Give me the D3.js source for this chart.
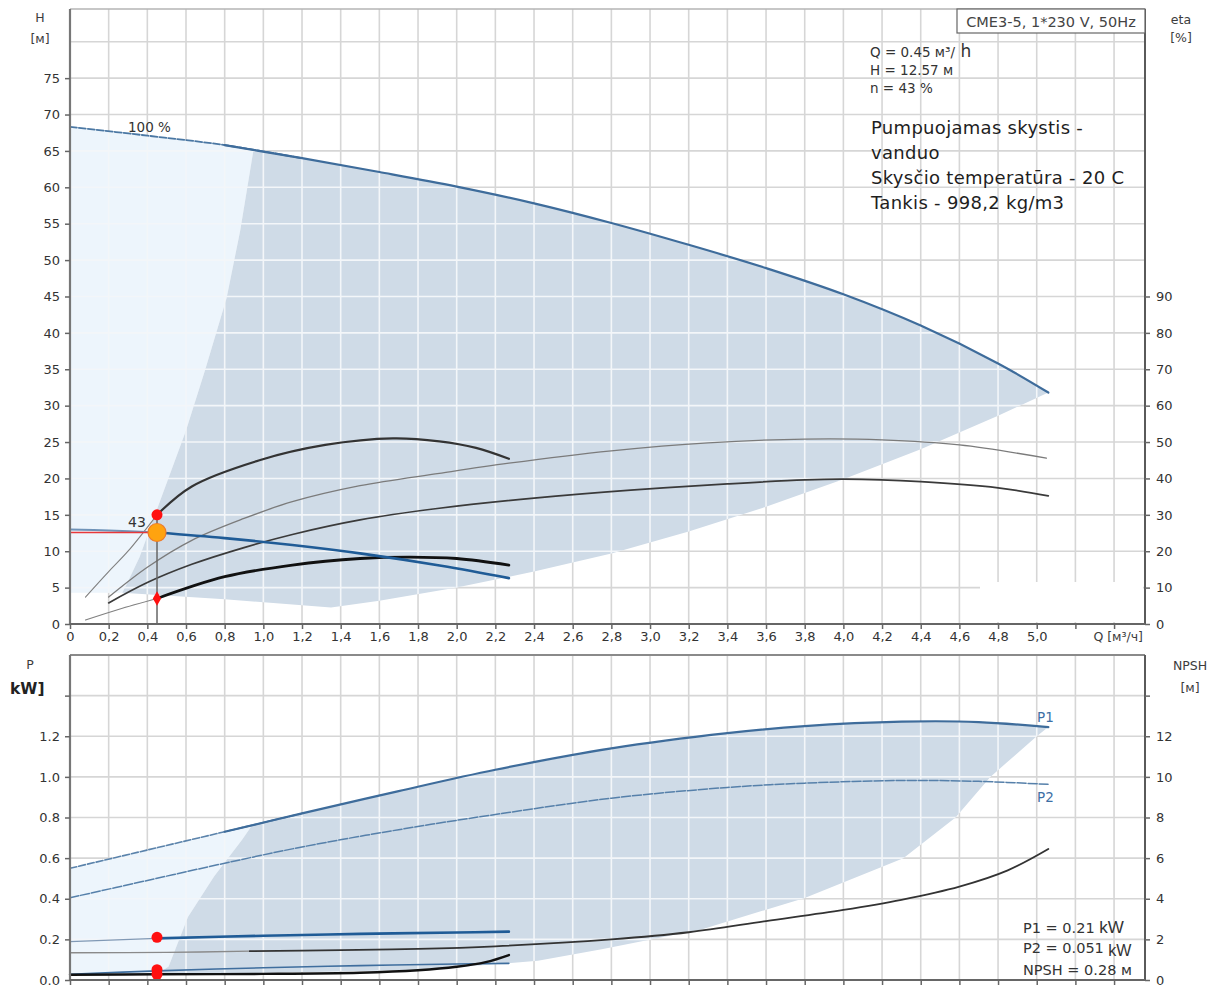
<!DOCTYPE html>
<html><head><meta charset="utf-8">
<script src="https://cdn.jsdelivr.net/npm/d3@7"></script>
<style>
body{margin:0;background:#fff}
svg{display:block}
text{font-family:"DejaVu Sans",Verdana,sans-serif}
</style>
</head><body>
<svg id="c" width="1229" height="989"></svg>
<script>
// ---------- data ----------
const qTicks = [0,0.2,0.4,0.6,0.8,1.0,1.2,1.4,1.6,1.8,2.0,2.2,2.4,2.6,2.8,3.0,3.2,3.4,3.6,3.8,4.0,4.2,4.4,4.6,4.8,5.0,5.2,5.4];
const qLabelMax = 5.0;
const hTicks = [0,5,10,15,20,25,30,35,40,45,50,55,60,65,70,75];
const hGridVals = [5,10,15,20,25,30,35,40,45,50,55,60,65,70,75,80];
const etaTicks = [0,10,20,30,40,50,60,70,80,90];
const pTicks = [0,0.2,0.4,0.6,0.8,1.0,1.2,1.4];
const pLabelMax = 1.2;
const npshTicks = [0,2,4,6,8,10,12,14];
const npshLabelMax = 12;

// H curve at 100 % speed
const h100Q = [0,0.4,0.8,1.2,1.6,2.0,2.4,2.8,3.2,3.6,4.0,4.4,4.8,5.06];
const h100H = [68.3,67.1,65.8,64.0,62.1,60.1,57.8,55.1,52.1,48.9,45.3,41.0,35.8,31.8];
// H curve at 43 % speed
const h43Q = [0,0.2,0.45,0.8,1.15,1.5,1.92,2.27];
const h43H = [13.0,12.85,12.57,11.8,10.85,9.7,8.0,6.3];
// eta pump 100 %
const etaP100Q = [0.2,0.4,0.63,0.9,1.15,1.5,1.91,2.27,2.8,3.3,3.8,4.2,4.6,5.05];
const etaP100 = [7.4,15.6,23,29,33.6,38,41.4,44.2,47.6,49.8,50.8,50.6,49.2,45.6];
// eta total 100 %
const etaT100Q = [0.2,0.4,0.63,0.9,1.15,1.5,1.91,2.4,2.9,3.4,3.8,4.0,4.4,4.8,5.06];
const etaT100 = [5.8,11.4,16.4,21,24.6,28.6,31.8,34.6,36.8,38.5,39.6,39.8,39.1,37.4,35.2];
// eta pump 43 %
const etaP43Q = [0.08,0.2,0.3,0.45,0.63,0.98,1.32,1.67,1.91,2.1,2.27];
const etaP43 = [7.4,14.4,20,30,37.8,45,49.2,51,50.2,48.4,45.4];
// eta total 43 %
const etaT43Q = [0.08,0.25,0.45,0.8,1.15,1.5,1.76,2.0,2.27];
const etaT43 = [1.1,4,7,13,16.2,18,18.4,18,16.2];

// operating-range areas (upper chart)
const effLeftQ = [0.27,0.29,0.36,0.46,0.6,0.7,0.81,0.88,0.95];
const effLeftH = [4.3,5.3,9.2,16.5,26.6,35,44.8,54,65.3];
const effRightQ = [5.06,4.8,4.4,4.0,3.6,3.2,2.8,2.4,2.0,1.6,1.35];
const effRightH = [31.8,28.6,24.0,19.9,16.1,12.7,9.7,7.2,5.0,3.2,2.26];
const effBottomQ = [0.8];
const effBottomH = [3.4];
const lightBottomQ = [0];
const lightBottomH = [4.3];

// power curves
const p100Q = [0,0.4,0.8,1.2,1.7,2.2,2.8,3.4,3.8,4.3,4.7,5.06];
const p1_100 = [0.55,0.64,0.73,0.82,0.93,1.035,1.14,1.215,1.25,1.272,1.27,1.245];
const p2_100 = [0.405,0.49,0.575,0.655,0.74,0.815,0.895,0.948,0.969,0.982,0.978,0.963];
const npsh100Q = [0,0.5,0.93,1.4,1.8,2.2,2.8,3.2,3.6,4.0,4.3,4.6,4.85,5.06];
const npsh100 = [1.34,1.36,1.42,1.47,1.53,1.66,2.0,2.35,2.9,3.45,3.95,4.6,5.4,6.45];
const p43Q = [0,0.45,1.0,1.5,2.0,2.27];
const p1_43 = [0.189,0.205,0.218,0.227,0.234,0.238];
const p2_43 = [0.028,0.045,0.06,0.071,0.079,0.082];
const npsh43Q = [0,0.45,1.0,1.5,1.8,2.0,2.15,2.27];
const npsh43 = [0.26,0.28,0.3,0.36,0.48,0.65,0.88,1.23];

// operating-range areas (lower chart)
const lowLeftQ = [0.45,0.51,0.61,0.745,0.89,0.94];
const lowLeftP = [0.028,0.066,0.31,0.51,0.69,0.76];
const lowRightQ = [5.06,5.0,4.76,4.58,4.31,3.8,3.27,2.75,2.42,1.84,1.0];
const lowRightP = [1.245,1.2,1.0,0.8,0.6,0.404,0.25,0.151,0.095,0.05,0.035];
const lowLightQ = [0];
const lowLightP = [0.02];

// duty point
const dutyQ = 0.45, dutyH = 12.57, dutyEtaP = 30, dutyEtaT = 7;
const dutyP1 = 0.21, dutyP2 = 0.051, dutyNPSH = 0.28;

// texts
const infoSmall = ["H = 12.57 м", "n = 43 %"];
const infoBig = ["Pumpuojamas skystis -", "vanduo", "Skysčio temperatūra - 20 C", "Tankis - 998,2 kg/m3"];

// ---------- scales ----------
const svg = d3.select('#c');
svg.append('rect').attr('width',1229).attr('height',989).attr('fill','#fff');
const X0 = 70, X1 = 1145;
const x = d3.scaleLinear().domain([0,5.56]).range([X0,X1]);
const TOP = 9, BOT = 624;
const yH = d3.scaleLinear().domain([0,84.5]).range([BOT,TOP]);
const yE = d3.scaleLinear().domain([0,169]).range([BOT,TOP]);
const LTOP = 655, LBOT = 980;
const yP = d3.scaleLinear().domain([0,1.6]).range([LBOT,LTOP]);
const yN = d3.scaleLinear().domain([0,16]).range([LBOT,LTOP]);

const pts = (qs, vs) => qs.map((q,i)=>[q, vs[i]]);
const polyPath = (data, yS) => 'M' + data.map(d=>x(d[0]).toFixed(2)+','+yS(d[1]).toFixed(2)).join('L') + 'Z';
const linePath = (data, yS) => d3.line().x(d=>x(d[0])).y(d=>yS(d[1])).curve(d3.curveCatmullRom.alpha(0.5))(data);

function curve(g, data, yS, color, w, dash){
  const p = g.append('path').attr('d', linePath(data, yS)).attr('fill','none')
    .attr('stroke', color).attr('stroke-width', w).attr('stroke-linecap','round').attr('stroke-linejoin','round');
  if (dash) p.attr('stroke-dasharray', dash);
  return p;
}

const GRID = '#d6d6d6';
const defs = svg.append('defs');

// ---------- grid helper ----------
function grid(g, yS, yVals, top, bot, color, w){
  g.selectAll(null).data(qTicks.filter(d=>d>0)).join('line')
    .attr('x1',d=>x(d)).attr('x2',d=>x(d)).attr('y1',top).attr('y2',bot)
    .attr('stroke',color).attr('stroke-width',w);
  g.selectAll(null).data(yVals).join('line')
    .attr('x1',X0).attr('x2',X1).attr('y1',d=>yS(d)).attr('y2',d=>yS(d))
    .attr('stroke',color).attr('stroke-width',w);
}

// ================= UPPER CHART =================
const up = svg.append('g');
grid(up.append('g'), yH, hGridVals, TOP, BOT, GRID, 1.6);
// white patch (no gridlines) in lower right
up.append('rect').attr('x',980).attr('y',582).attr('width',163).attr('height',40).attr('fill','#fff');

const h100 = pts(h100Q, h100H);
const effLeft = pts(effLeftQ, effLeftH);
const lightPoly = [...pts(lightBottomQ, lightBottomH), ...effLeft, ...h100.filter(d=>d[0] < 0.95).reverse()];
const darkPoly = [...effLeft, ...h100.filter(d=>d[0] > 0.95 && d[0] < 5.06), ...pts(effRightQ, effRightH), ...pts(effBottomQ, effBottomH)];

up.append('path').attr('d', polyPath(lightPoly, yH)).attr('fill','#edf5fc');
up.append('path').attr('d', polyPath(darkPoly, yH)).attr('fill','#cfdbe7');
const cpUp = defs.append('clipPath').attr('id','cpUp');
cpUp.append('path').attr('d', polyPath(lightPoly, yH));
cpUp.append('path').attr('d', polyPath(darkPoly, yH));
grid(up.append('g').attr('clip-path','url(#cpUp)'), yH, hGridVals, TOP, BOT, '#f3f6f9', 1.6);

// curves
curve(up, pts(etaP100Q, etaP100), yE, '#7b7b7b', 1.3);
curve(up, pts(etaT100Q, etaT100), yE, '#3a3a3a', 1.7);
const etaP43pts = pts(etaP43Q, etaP43);
curve(up, etaP43pts.filter(d=>d[0] <= dutyQ), yE, '#808080', 1.1);
curve(up, etaP43pts.filter(d=>d[0] >= dutyQ), yE, '#333', 2.2);
const etaT43pts = pts(etaT43Q, etaT43);
curve(up, etaT43pts.filter(d=>d[0] <= dutyQ), yE, '#808080', 1.1);
curve(up, etaT43pts.filter(d=>d[0] >= dutyQ), yE, '#111', 2.8);

curve(up, h100.filter(d=>d[0] <= 1.2), yH, '#4a77a3', 1.8, '7,2');
curve(up, h100.filter(d=>d[0] >= 0.8), yH, '#3e6c9b', 2.2);
const h43 = pts(h43Q, h43H);
curve(up, h43.filter(d=>d[0] <= dutyQ), yH, '#6f93b8', 2);
// red duty line
up.append('line').attr('x1',x(0)).attr('x2',x(dutyQ)).attr('y1',yH(dutyH)).attr('y2',yH(dutyH))
  .attr('stroke','#e8383a').attr('stroke-width',1.6);
curve(up, h43.filter(d=>d[0] >= dutyQ), yH, '#1f5b96', 2.6);
// vertical duty line
up.append('line').attr('x1',x(dutyQ)).attr('x2',x(dutyQ)).attr('y1',yE(dutyEtaP)).attr('y2',yH(0))
  .attr('stroke','#666').attr('stroke-width',1.5);

// duty markers
up.append('circle').attr('cx',x(dutyQ)).attr('cy',yE(dutyEtaP)).attr('r',5.5).attr('fill','#ff1010');
up.append('path').attr('d', d3.symbol(d3.symbolDiamond, 60)())
  .attr('transform',`translate(${x(dutyQ)},${yE(dutyEtaT)})`).attr('fill','#ff1010');
up.append('circle').attr('cx',x(dutyQ)).attr('cy',yH(dutyH)).attr('r',9)
  .attr('fill','#ffa30f').attr('stroke','#ec7a2c').attr('stroke-width',1.2);

// labels in plot
up.append('text').attr('x',128).attr('y',132).attr('font-size',13.5).attr('fill','#333').text('100 %');
up.append('text').attr('x',128).attr('y',527).attr('font-size',14).attr('fill','#333').text('43');

// frame
up.append('line').attr('x1',X0).attr('x2',X1).attr('y1',TOP).attr('y2',TOP).attr('stroke','#b5b5b5').attr('stroke-width',1.5);
up.append('line').attr('x1',X0).attr('x2',X0).attr('y1',TOP).attr('y2',BOT).attr('stroke','#777').attr('stroke-width',2.2);
up.append('line').attr('x1',X1).attr('x2',X1).attr('y1',TOP).attr('y2',BOT).attr('stroke','#5a5a5a').attr('stroke-width',2);
up.append('line').attr('x1',X0).attr('x2',X1).attr('y1',BOT).attr('y2',BOT).attr('stroke','#666').attr('stroke-width',2);

function styleAxis(g){
  g.select('.domain').remove();
  g.selectAll('.tick line').attr('stroke','#666').attr('stroke-width',1.5);
  g.selectAll('.tick text').attr('fill','#333').attr('font-size',13)
    .attr('font-family','"DejaVu Sans",Verdana,sans-serif');
}
up.append('g').attr('transform',`translate(${X0},0)`)
  .call(d3.axisLeft(yH).tickValues(hTicks).tickSize(5).tickPadding(5).tickFormat(d=>String(d))).call(styleAxis);
up.append('g').attr('transform',`translate(${X1},0)`)
  .call(d3.axisRight(yE).tickValues(etaTicks).tickSize(5).tickPadding(6).tickFormat(d=>String(d))).call(styleAxis);
up.append('g').attr('transform',`translate(0,${BOT})`)
  .call(d3.axisBottom(x).tickValues(qTicks).tickSize(5).tickPadding(3)
    .tickFormat(d=> d > qLabelMax + 1e-6 ? '' : (d === 0 ? '0' : d.toFixed(1).replace('.',','))))
  .call(styleAxis);

// axis titles
const T = (t, xx, yy, size, anchor, fill) => svg.append('text').attr('x',xx).attr('y',yy)
  .attr('font-size',size).attr('text-anchor',anchor||'start').attr('fill',fill||'#3c3c3c').text(t);
T('H', 40, 22, 12.5, 'middle');
T('[м]', 40, 43, 12.5, 'middle');
T('eta', 1181, 24, 12.5, 'middle');
T('[%]', 1181, 42, 12.5, 'middle');
T('Q [м³/ч]', 1143, 641, 12.5, 'end');

// model box
svg.append('rect').attr('x',957).attr('y',TOP).attr('width',X1-957).attr('height',24)
  .attr('fill','#fff').attr('stroke','#666').attr('stroke-width',1.2);
T('CME3-5, 1*230 V, 50Hz', 1051, 27, 14.5, 'middle', '#444');

// info texts
const q1 = svg.append('text').attr('x',870).attr('y',57).attr('fill','#333');
q1.append('tspan').attr('font-size',13.5).text('Q = 0.45 м³/');
q1.append('tspan').attr('font-size',17).text(' h');
infoSmall.forEach((t,i)=> T(t, 870, 75 + i*18, 13.5, 'start', '#333'));
infoBig.forEach((t,i)=> svg.append('text').attr('x',871).attr('y',134 + i*25)
  .attr('font-family','"Open Sans","Noto Sans",sans-serif').attr('font-size',18)
  .attr('letter-spacing',0.3).attr('fill','#1e1e1e').text(t));

// ================= LOWER CHART =================
const lo = svg.append('g');
grid(lo.append('g'), yP, pTicks.filter(d=>d>0), LTOP, LBOT, GRID, 1.6);

const p1pts = pts(p100Q, p1_100);
const lowLeft = pts(lowLeftQ, lowLeftP);
const lowLight = [...pts(lowLightQ, lowLightP), ...lowLeft, ...p1pts.filter(d=>d[0] < 0.94).reverse()];
const lowDark = [...lowLeft, ...p1pts.filter(d=>d[0] > 0.94 && d[0] < 5.06), ...pts(lowRightQ, lowRightP)];
lo.append('path').attr('d', polyPath(lowLight, yP)).attr('fill','#edf5fc');
lo.append('path').attr('d', polyPath(lowDark, yP)).attr('fill','#cfdbe7');
const cpLo = defs.append('clipPath').attr('id','cpLo');
cpLo.append('path').attr('d', polyPath(lowLight, yP));
cpLo.append('path').attr('d', polyPath(lowDark, yP));
grid(lo.append('g').attr('clip-path','url(#cpLo)'), yP, pTicks.filter(d=>d>0), LTOP, LBOT, '#f3f6f9', 1.6);

// curves
curve(lo, p1pts.filter(d=>d[0] <= 1.2), yP, '#5b83ab', 1.6, '7,2');
curve(lo, p1pts.filter(d=>d[0] >= 0.8), yP, '#3e6c9b', 2.2);
curve(lo, pts(p100Q, p2_100), yP, '#5680aa', 1.5, '9,2');
const n100 = pts(npsh100Q, npsh100);
curve(lo, n100.filter(d=>d[0] <= 0.93), yN, '#8a8a8a', 1.4);
curve(lo, n100.filter(d=>d[0] >= 0.93), yN, '#333', 1.8);
const p1_43pts = pts(p43Q, p1_43);
curve(lo, p1_43pts.filter(d=>d[0] <= dutyQ), yP, '#8099b5', 1.4);
curve(lo, p1_43pts.filter(d=>d[0] >= dutyQ), yP, '#1f5b96', 2.6);
curve(lo, pts(p43Q, p2_43), yP, '#3f6e9e', 1.6);
curve(lo, pts(npsh43Q, npsh43), yN, '#111', 2.4);

lo.append('circle').attr('cx',x(dutyQ)).attr('cy',yP(dutyP1)).attr('r',5.5).attr('fill','#ff1010');
lo.append('circle').attr('cx',x(dutyQ)).attr('cy',yP(dutyP2)).attr('r',5.5).attr('fill','#ff1010');
lo.append('circle').attr('cx',x(dutyQ)).attr('cy',yN(dutyNPSH)).attr('r',5.5).attr('fill','#ff1010');

// frame
lo.append('line').attr('x1',X0).attr('x2',X1).attr('y1',LTOP).attr('y2',LTOP).attr('stroke','#8a8a8a').attr('stroke-width',1.8);
lo.append('line').attr('x1',X0).attr('x2',X0).attr('y1',LTOP).attr('y2',LBOT).attr('stroke','#777').attr('stroke-width',2.2);
lo.append('line').attr('x1',X1).attr('x2',X1).attr('y1',LTOP).attr('y2',LBOT).attr('stroke','#5a5a5a').attr('stroke-width',2);
lo.append('line').attr('x1',X0).attr('x2',X1).attr('y1',LBOT).attr('y2',LBOT).attr('stroke','#666').attr('stroke-width',2);

lo.append('g').attr('transform',`translate(${X0},0)`)
  .call(d3.axisLeft(yP).tickValues(pTicks).tickSize(5).tickPadding(5)
    .tickFormat(d=> d > pLabelMax + 1e-6 ? '' : d.toFixed(1))).call(styleAxis);
lo.append('g').attr('transform',`translate(${X1},0)`)
  .call(d3.axisRight(yN).tickValues(npshTicks).tickSize(5).tickPadding(6)
    .tickFormat(d=> d > npshLabelMax ? '' : String(d))).call(styleAxis);
lo.append('g').attr('transform',`translate(0,${LBOT})`)
  .call(d3.axisBottom(x).tickValues(qTicks).tickSize(5).tickFormat(()=>'')).call(styleAxis);

// titles and labels
T('P', 30, 669, 12.5, 'middle');
svg.append('text').attr('x',10).attr('y',694).attr('font-size',15.5).attr('font-weight','bold')
  .attr('font-family','"Liberation Sans",Arial,sans-serif').attr('fill','#222').text('kW]');
T('NPSH', 1190, 670, 12.5, 'middle');
T('[м]', 1190, 692, 12.5, 'middle');
T('P1', 1037, 722, 13.5, 'start', '#3d6fa5');
T('P2', 1037, 802, 13.5, 'start', '#3d6fa5');

const r1 = svg.append('text').attr('x',1023).attr('y',933).attr('fill','#333');
r1.append('tspan').attr('font-size',14.5).text('P1 = 0.21  ');
r1.append('tspan').attr('font-size',17).attr('font-family','"Liberation Sans",Arial,sans-serif').text('kW');
const r2 = svg.append('text').attr('x',1023).attr('y',953).attr('fill','#333');
r2.append('tspan').attr('font-size',14.5).text('P2 = 0.051');
r2.append('tspan').attr('font-size',16).attr('dy',3).attr('font-family','"Liberation Sans",Arial,sans-serif').text(' kW');
T('NPSH = 0.28 м', 1023, 975, 14.5, 'start', '#333');
</script>
</body></html>
